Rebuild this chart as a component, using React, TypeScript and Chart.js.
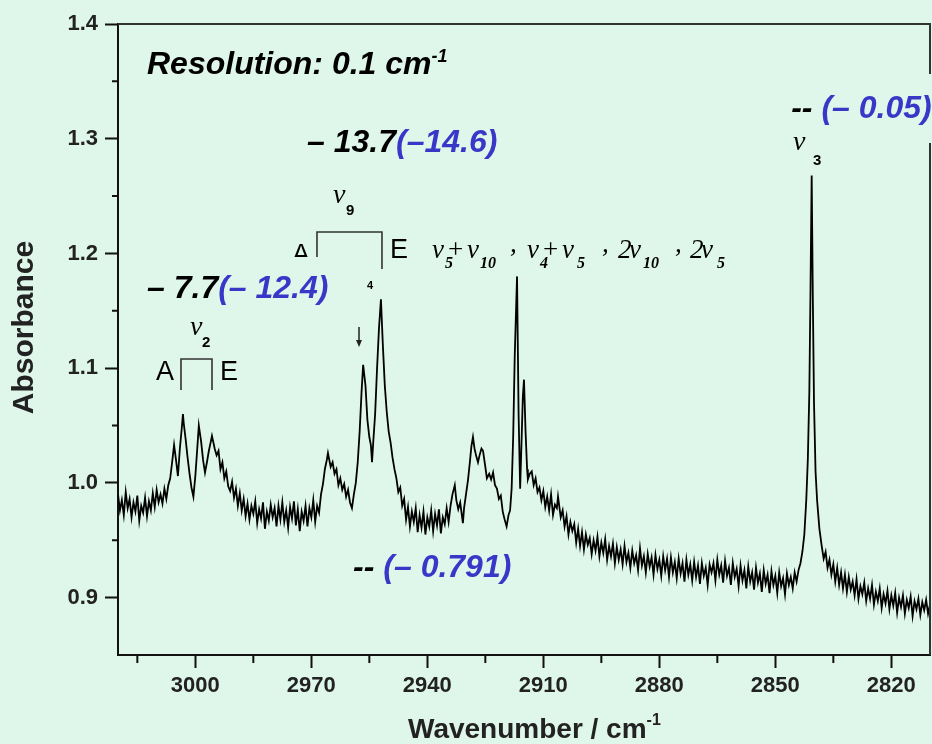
import React, { useEffect, useRef } from 'react';
import { Chart, registerables } from 'chart.js';

Chart.register(...registerables);

// ---------------- data ----------------
const wavenumber = [
  3020, 3019.5, 3019, 3018.5, 3018, 3017.5, 3017, 3016.5, 3016, 3015.5,
  3015, 3014.5, 3014, 3013.5, 3013, 3012.5, 3012, 3011.5, 3011, 3010.5,
  3010, 3009.5, 3009, 3008.5, 3008, 3007.5, 3007, 3006.5, 3006, 3005.5,
  3005, 3004.5, 3004, 3003.5, 3003.2, 3003, 3002.5, 3002, 3001.5, 3001,
  3000.5, 3000, 2999.5, 2999.1, 2998.5, 2998, 2997.5, 2997, 2996.5, 2996,
  2995.7, 2995, 2994.5, 2994, 2993.5, 2993, 2992.5, 2992, 2991.5, 2991,
  2990.5, 2990, 2989.5, 2989, 2988.5, 2988, 2987.5, 2987, 2986.5, 2986,
  2985.5, 2985, 2984.5, 2984, 2983.5, 2983, 2982.5, 2982, 2981.5, 2981,
  2980.5, 2980, 2979.5, 2979, 2978.5, 2978, 2977.5, 2977, 2976.5, 2976,
  2975.5, 2975, 2974.5, 2974, 2973.5, 2973, 2972.5, 2972, 2971.5, 2971,
  2970.5, 2970, 2969.5, 2969, 2968.5, 2968, 2967.5, 2967, 2966.5, 2966,
  2965.7, 2965, 2964.5, 2964, 2963.5, 2963, 2962.5, 2962, 2961.5, 2961,
  2960.5, 2960, 2959.5, 2959, 2958.5, 2958, 2957.5, 2957, 2956.6, 2956,
  2955.5, 2955, 2954.6, 2954.3, 2954, 2953.5, 2953, 2952.5, 2952, 2951.5,
  2951, 2950.5, 2950, 2949.5, 2949, 2948.5, 2948, 2947.5, 2947, 2946.5,
  2946, 2945.5, 2945, 2944.5, 2944, 2943.5, 2943, 2942.5, 2942, 2941.5,
  2941, 2940.5, 2940, 2939.5, 2939, 2938.5, 2938, 2937.5, 2937, 2936.5,
  2936, 2935.5, 2935, 2934.5, 2934, 2933.5, 2932.9, 2932.5, 2932, 2931.5,
  2931, 2930.8, 2930.5, 2930, 2929.5, 2929, 2928.6, 2928.2, 2927.8, 2927.4,
  2926.9, 2926.5, 2926, 2925.6, 2925, 2924.6, 2924, 2923.5, 2923, 2922.5,
  2922, 2921.5, 2921, 2920.5, 2920, 2919.5, 2919, 2918.6, 2918.2, 2917.8,
  2917.4, 2916.8, 2916.4, 2916, 2915.6, 2915.3, 2915, 2914.6, 2914.2, 2914,
  2913.5, 2913, 2912.5, 2912, 2911.5, 2911, 2910.5, 2910, 2909.5, 2909,
  2908.5, 2908, 2907.5, 2907, 2906.5, 2906.2, 2905.5, 2905, 2904.5, 2904,
  2903.5, 2903, 2902.5, 2902, 2901.5, 2901, 2900.5, 2900, 2899.5, 2899,
  2898.5, 2898, 2897.5, 2897, 2896.5, 2896, 2895.5, 2895, 2894.5, 2894,
  2893.5, 2893, 2892.5, 2892, 2891.5, 2891, 2890.5, 2890, 2889.5, 2889,
  2888.5, 2888, 2887.5, 2887, 2886.5, 2886, 2885.5, 2885, 2884.5, 2884,
  2883.5, 2883, 2882.5, 2882, 2881.5, 2881, 2880.5, 2880, 2879.5, 2879,
  2878.5, 2878, 2877.5, 2877, 2876.5, 2876, 2875.5, 2875, 2874.5, 2874,
  2873.5, 2873, 2872.5, 2872, 2871.5, 2871, 2870.5, 2870, 2869.5, 2869,
  2868.5, 2868, 2867.5, 2867, 2866.5, 2866, 2865.5, 2865, 2864.5, 2864,
  2863.5, 2863, 2862.5, 2862, 2861.5, 2861, 2860.5, 2860, 2859.5, 2859,
  2858.5, 2858, 2857.5, 2857, 2856.5, 2856, 2855.5, 2855, 2854.5, 2854,
  2853.5, 2853, 2852.5, 2852, 2851.5, 2851, 2850.5, 2850, 2849.5, 2849,
  2848.5, 2848, 2847.5, 2847, 2846.5, 2846, 2845.5, 2845, 2844.5, 2844,
  2843.5, 2843, 2842.5, 2842, 2841.6, 2841.2, 2840.9, 2840.6, 2840.3, 2840,
  2839.6, 2839.2, 2838.6, 2838, 2837.5, 2837, 2836.5, 2836, 2835.5, 2835,
  2834.5, 2834, 2833.5, 2833, 2832.5, 2832, 2831.5, 2831, 2830.5, 2830,
  2829.5, 2829, 2828.5, 2828, 2827.5, 2827, 2826.5, 2826, 2825.5, 2825,
  2824.5, 2824, 2823.5, 2823, 2822.5, 2822, 2821.5, 2821, 2820.5, 2820,
  2819.5, 2819, 2818.5, 2818, 2817.5, 2817, 2816.5, 2816, 2815.5, 2815,
  2814.5, 2814, 2813.5, 2813, 2812.5, 2812, 2811.5, 2811, 2810.5, 2810,
];

const absorbance = [
  0.990, 0.976, 0.985, 0.972, 0.992, 0.978, 0.986, 0.970, 0.983, 0.975,
  0.989, 0.967, 0.980, 0.974, 0.987, 0.971, 0.984, 0.976, 0.991, 0.979,
  0.994, 0.983, 0.990, 0.982, 0.995, 0.986, 0.998, 1.004, 1.018, 1.033,
  1.020, 1.006, 1.030, 1.048, 1.060, 1.052, 1.038, 1.022, 1.008, 0.996,
  0.988, 1.006, 1.030, 1.050, 1.036, 1.020, 1.009, 1.018, 1.028, 1.036,
  1.041, 1.030, 1.024, 1.028, 1.012, 1.018, 1.004, 1.010, 0.997, 0.993,
  1.001, 0.987, 0.995, 0.980, 0.991, 0.976, 0.986, 0.971, 0.982, 0.968,
  0.980, 0.973, 0.984, 0.965, 0.977, 0.969, 0.983, 0.960, 0.975, 0.967,
  0.981, 0.970, 0.978, 0.962, 0.980, 0.968, 0.983, 0.966, 0.976, 0.961,
  0.979, 0.969, 0.984, 0.963, 0.977, 0.958, 0.975, 0.967, 0.980, 0.962,
  0.978, 0.970, 0.985, 0.966, 0.980, 0.974, 0.990, 0.999, 1.012, 1.020,
  1.026, 1.014, 1.018, 1.008, 1.012, 0.998, 1.004, 0.994, 0.999, 0.988,
  0.994, 0.983, 0.978, 0.990, 1.000, 1.018, 1.045, 1.080, 1.103, 1.085,
  1.055, 1.040, 1.033, 1.018, 1.035, 1.060, 1.100, 1.135, 1.160, 1.120,
  1.085, 1.062, 1.045, 1.035, 1.022, 1.012, 1.004, 0.992, 0.996, 0.980,
  0.986, 0.968, 0.979, 0.962, 0.975, 0.966, 0.978, 0.957, 0.972, 0.961,
  0.975, 0.955, 0.970, 0.962, 0.976, 0.958, 0.973, 0.963, 0.977, 0.956,
  0.970, 0.964, 0.978, 0.966, 0.980, 0.990, 0.998, 0.985, 0.977, 0.983,
  0.970, 0.965, 0.978, 0.990, 1.002, 1.018, 1.032, 1.040, 1.030, 1.024,
  1.018, 1.024, 1.030, 1.028, 1.014, 1.004, 1.008, 1.003, 1.009, 0.998,
  0.995, 0.986, 0.989, 0.975, 0.968, 0.962, 0.972, 0.976, 0.995, 1.040,
  1.110, 1.180, 1.060, 0.995, 1.040, 1.075, 1.090, 1.045, 1.012, 1.003,
  1.008, 1.010, 0.998, 1.004, 0.992, 0.996, 0.985, 0.993, 0.979, 0.988,
  0.976, 0.990, 0.972, 0.981, 0.978, 0.988, 0.970, 0.976, 0.962, 0.971,
  0.955, 0.966, 0.958, 0.964, 0.948, 0.960, 0.945, 0.957, 0.942, 0.955,
  0.946, 0.952, 0.938, 0.950, 0.941, 0.953, 0.936, 0.948, 0.939, 0.951,
  0.933, 0.945, 0.936, 0.947, 0.930, 0.944, 0.933, 0.942, 0.929, 0.945,
  0.931, 0.939, 0.926, 0.941, 0.930, 0.937, 0.924, 0.943, 0.928, 0.936,
  0.922, 0.938, 0.927, 0.935, 0.920, 0.937, 0.925, 0.933, 0.919, 0.936,
  0.924, 0.934, 0.918, 0.935, 0.922, 0.931, 0.917, 0.934, 0.921, 0.930,
  0.914, 0.933, 0.920, 0.929, 0.915, 0.931, 0.918, 0.928, 0.912, 0.930,
  0.919, 0.926, 0.911, 0.929, 0.922, 0.930, 0.915, 0.933, 0.920, 0.928,
  0.913, 0.932, 0.919, 0.926, 0.911, 0.930, 0.918, 0.925, 0.910, 0.928,
  0.915, 0.924, 0.908, 0.927, 0.914, 0.922, 0.907, 0.926, 0.913, 0.921,
  0.905, 0.924, 0.912, 0.920, 0.904, 0.923, 0.911, 0.919, 0.904, 0.922,
  0.910, 0.917, 0.903, 0.921, 0.911, 0.918, 0.908, 0.922, 0.914, 0.924,
  0.930, 0.940, 0.955, 0.985, 1.020, 1.080, 1.170, 1.268, 1.160, 1.070,
  1.010, 0.985, 0.960, 0.945, 0.934, 0.940, 0.926, 0.933, 0.920, 0.929,
  0.914, 0.926, 0.911, 0.922, 0.908, 0.920, 0.905, 0.918, 0.907, 0.914,
  0.902, 0.916, 0.899, 0.910, 0.903, 0.913, 0.897, 0.908, 0.899, 0.911,
  0.894, 0.905, 0.897, 0.908, 0.891, 0.903, 0.895, 0.906, 0.890, 0.902,
  0.893, 0.904, 0.887, 0.900, 0.892, 0.902, 0.886, 0.898, 0.891, 0.901,
  0.884, 0.897, 0.890, 0.899, 0.885, 0.896, 0.889, 0.898, 0.886, 0.894,
];

const xMajorTicks = [3000, 2970, 2940, 2910, 2880, 2850, 2820];
const xMinorTicks = [3015, 2985, 2955, 2925, 2895, 2865, 2835];
const yMajorTicks = [0.9, 1.0, 1.1, 1.2, 1.3, 1.4];
const yMinorTicks = [0.95, 1.05, 1.15, 1.25, 1.35];
const xLimits = [2810, 3020];
const yLimits = [0.85, 1.4];

const xTitle = 'Wavenumber / cm';
const yTitle = 'Absorbance';
const resolutionText = 'Resolution: 0.1 cm';

// ---------------- style ----------------
const BG = '#dff6ea';
const BLUE = '#3838c8';
const SANS = '"Liberation Sans", Arial, Helvetica, sans-serif';
const SERIF = '"Liberation Serif", "Times New Roman", serif';
const BI = `italic bold 32px ${SANS}`;

type Seg = { t: string; f: string; c?: string; dy?: number; at?: number };

function drawRich(ctx: CanvasRenderingContext2D, x: number, y: number, segs: Seg[]) {
  let cx = x;
  for (const s of segs) {
    if (s.at !== undefined) cx = x + s.at;
    ctx.font = s.f;
    ctx.fillStyle = s.c ?? '#000';
    ctx.fillText(s.t, cx, y + (s.dy ?? 0));
    cx += ctx.measureText(s.t).width;
  }
}

const annotatePlugin = {
  id: 'annotate',
  beforeDraw(chart: any) {
    const { ctx, width, height } = chart;
    ctx.save();
    ctx.fillStyle = BG;
    ctx.fillRect(0, 0, width, height);
    ctx.restore();
  },
  afterDraw(chart: any) {
    const { ctx, chartArea: a, scales } = chart;
    const X = (v: number) => scales.x.getPixelForValue(v);
    const Y = (v: number) => scales.y.getPixelForValue(v);
    ctx.save();
    ctx.textAlign = 'left';
    ctx.textBaseline = 'alphabetic';

    // frame (top and right)
    ctx.strokeStyle = '#333';
    ctx.lineWidth = 2;
    ctx.beginPath();
    ctx.moveTo(a.left, a.top);
    ctx.lineTo(a.right, a.top);
    ctx.lineTo(a.right, a.bottom);
    ctx.stroke();

    // minor ticks
    ctx.strokeStyle = '#111';
    ctx.lineWidth = 2;
    ctx.beginPath();
    for (const v of xMinorTicks) {
      ctx.moveTo(X(v), a.bottom);
      ctx.lineTo(X(v), a.bottom + 8);
    }
    for (const v of yMinorTicks) {
      ctx.moveTo(a.left, Y(v));
      ctx.lineTo(a.left - 6, Y(v));
    }
    ctx.stroke();

    // axis titles
    drawRich(ctx, a.left + 290, a.bottom + 83, [
      { t: xTitle, f: `bold 28px ${SANS}`, c: '#222' },
      { t: '-1', f: `bold 16px ${SANS}`, c: '#222', dy: -13 },
    ]);
    ctx.save();
    ctx.translate(33, (a.top + a.bottom) / 2 - 12);
    ctx.rotate(-Math.PI / 2);
    ctx.textAlign = 'center';
    ctx.font = `bold 30px ${SANS}`;
    ctx.fillStyle = '#222';
    ctx.fillText(yTitle, 0, 0);
    ctx.restore();

    // resolution
    drawRich(ctx, X(3012.5), Y(1.3564), [
      { t: resolutionText, f: BI },
      { t: '-1', f: `italic bold 18px ${SANS}`, dy: -12 },
    ]);

    // shifts
    drawRich(ctx, X(2971.1), Y(1.2884), [
      { t: '\u2013 13.7', f: BI },
      { t: '(\u201314.6)', f: BI, c: BLUE },
    ]);
    drawRich(ctx, X(3012.5), Y(1.1612), [
      { t: '\u2013 7.7', f: BI },
      { t: '(\u2013 12.4)', f: BI, c: BLUE },
    ]);
    drawRich(ctx, X(2959.2), Y(0.918), [
      { t: '-- ', f: BI },
      { t: '(\u2013 0.791)', f: BI, c: BLUE },
    ]);
    // patch over the frame behind the top-right label
    ctx.fillStyle = BG;
    ctx.fillRect(X(2847.5), Y(1.3564), chart.width - X(2847.5), Y(1.2963) - Y(1.3564));
    drawRich(ctx, X(2845.9), Y(1.3181), [
      { t: '-- ', f: BI },
      { t: '(\u2013 0.05)', f: BI, c: BLUE },
    ]);

    // mode labels
    const NU = `italic 28px ${SERIF}`;
    const SUBN = `bold 15px ${SANS}`;
    drawRich(ctx, X(2964.4), Y(1.244), [
      { t: '\u03bd', f: NU },
      { t: '9', f: SUBN, dy: 12, at: 13 },
    ]);
    drawRich(ctx, X(3001.4), Y(1.1289), [
      { t: '\u03bd', f: NU },
      { t: '2', f: SUBN, dy: 12, at: 12 },
    ]);
    drawRich(ctx, X(2845.4), Y(1.2902), [
      { t: '\u03bd', f: NU },
      { t: '3', f: SUBN, dy: 15, at: 20 },
    ]);

    // brackets
    ctx.strokeStyle = '#333';
    ctx.lineWidth = 1.6;
    ctx.beginPath();
    ctx.moveTo(X(2968.54), Y(1.1969));
    ctx.lineTo(X(2968.54), Y(1.2187));
    ctx.lineTo(X(2951.73), Y(1.2187));
    ctx.lineTo(X(2951.73), Y(1.1865));
    ctx.moveTo(X(3003.71), Y(1.081));
    ctx.lineTo(X(3003.71), Y(1.108));
    ctx.lineTo(X(2995.69), Y(1.108));
    ctx.lineTo(X(2995.69), Y(1.081));
    ctx.stroke();

    const AE = `27px ${SANS}`;
    ctx.save();
    ctx.beginPath();
    ctx.rect(0, 0, chart.width, Y(1.1969));
    ctx.clip();
    drawRich(ctx, X(2975.0), Y(1.1917), [{ t: 'A', f: AE }]);
    ctx.restore();
    drawRich(ctx, X(2949.66), Y(1.196), [{ t: 'E', f: AE }]);
    drawRich(ctx, X(3010.17), Y(1.0897), [{ t: 'A', f: AE }]);
    drawRich(ctx, X(2993.62), Y(1.0897), [{ t: 'E', f: AE }]);
    drawRich(ctx, X(2955.61), Y(1.169), [{ t: '4', f: `bold 11px ${SANS}` }]);

    // arrow
    const ax = X(2957.67);
    const at = Y(1.1359);
    const ab = Y(1.1185);
    ctx.strokeStyle = '#222';
    ctx.fillStyle = '#222';
    ctx.lineWidth = 1.5;
    ctx.beginPath();
    ctx.moveTo(ax, at);
    ctx.lineTo(ax, ab - 6);
    ctx.stroke();
    ctx.beginPath();
    ctx.moveTo(ax - 3, ab - 7);
    ctx.lineTo(ax + 3, ab - 7);
    ctx.lineTo(ax, ab);
    ctx.closePath();
    ctx.fill();

    // combination band label
    const FN = `italic 27px ${SERIF}`;
    const FP = `27px ${SERIF}`;
    const FS = `italic bold 16px ${SERIF}`;
    drawRich(ctx, X(2938.8), Y(1.196), [
      { t: '\u03bd', f: FN, at: 0 },
      { t: '5', f: FS, dy: 10, at: 13 },
      { t: '+', f: FP, at: 16 },
      { t: '\u03bd', f: FN, at: 35 },
      { t: '10', f: FS, dy: 10, at: 48 },
      { t: ',', f: FN, dy: -6, at: 78 },
      { t: '\u03bd', f: FN, at: 95 },
      { t: '4', f: FS, dy: 10, at: 108 },
      { t: '+', f: FP, at: 111 },
      { t: '\u03bd', f: FN, at: 130 },
      { t: '5', f: FS, dy: 10, at: 145 },
      { t: ',', f: FN, dy: -6, at: 170 },
      { t: '2', f: FN, at: 186 },
      { t: '\u03bd', f: FN, at: 197 },
      { t: '10', f: FS, dy: 10, at: 211 },
      { t: ',', f: FN, dy: -6, at: 243 },
      { t: '2', f: FN, at: 258 },
      { t: '\u03bd', f: FN, at: 269 },
      { t: '5', f: FS, dy: 10, at: 285 },
    ]);

    ctx.restore();
  },
};

export default function App() {
  const canvasRef = useRef<HTMLCanvasElement | null>(null);

  useEffect(() => {
    document.body.style.margin = '0';
    document.body.style.background = BG;
    const canvas = canvasRef.current;
    if (!canvas) return;
    const points = wavenumber.map((w, i) => ({ x: w, y: absorbance[i] }));
    const tickFont = { family: SANS, size: 22, weight: 'bold' as const };
    const chart = new Chart(canvas, {
      type: 'line',
      data: {
        datasets: [
          {
            data: points,
            borderColor: '#000',
            borderWidth: 1.8,
            pointRadius: 0,
            tension: 0,
            fill: false,
          },
        ],
      },
      options: {
        responsive: false,
        animation: false,
        devicePixelRatio: 1,
        layout: { padding: { left: 0, right: 2, top: 24, bottom: 0 } },
        plugins: { legend: { display: false }, tooltip: { enabled: false }, title: { display: false } },
        scales: {
          x: {
            type: 'linear',
            reverse: true,
            min: xLimits[0],
            max: xLimits[1],
            afterBuildTicks: (s: any) => {
              s.ticks = xMajorTicks.map((value) => ({ value }));
            },
            afterFit: (s: any) => {
              s.height = 89;
            },
            grid: { drawOnChartArea: false, drawTicks: true, tickLength: 13, tickColor: '#111', tickWidth: 2 },
            border: { display: true, color: '#111', width: 2 },
            ticks: {
              autoSkip: false,
              maxRotation: 0,
              padding: 5,
              color: '#222',
              font: tickFont,
              callback: (v: any) => String(v),
            },
          },
          y: {
            type: 'linear',
            min: yLimits[0],
            max: yLimits[1],
            afterBuildTicks: (s: any) => {
              s.ticks = yMajorTicks.map((value) => ({ value }));
            },
            afterFit: (s: any) => {
              s.width = 118;
            },
            grid: { drawOnChartArea: false, drawTicks: true, tickLength: 13, tickColor: '#111', tickWidth: 2 },
            border: { display: true, color: '#111', width: 2 },
            ticks: {
              autoSkip: false,
              padding: 7,
              color: '#222',
              font: tickFont,
              callback: (v: any) => Number(v).toFixed(1),
            },
          },
        },
      },
      plugins: [annotatePlugin],
    });
    return () => chart.destroy();
  }, []);

  return (
    <div style={{ width: 932, height: 744, background: BG }}>
      <canvas ref={canvasRef} width={932} height={744} style={{ display: 'block' }} />
    </div>
  );
}
